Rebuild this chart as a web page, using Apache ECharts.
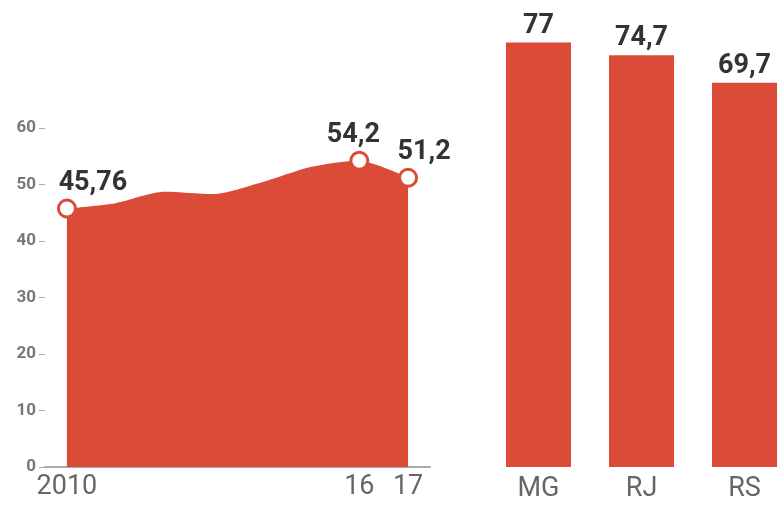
<!DOCTYPE html>
<html><head><meta charset="utf-8">
<script src="https://cdn.jsdelivr.net/npm/echarts@6/dist/echarts.min.js"></script>
<style>html,body{margin:0;padding:0;background:#fff}#c{width:778px;height:511px}</style>
</head><body><div id="c"></div>
<script>
const years = [2010, 2011, 2012, 2013, 2014, 2015, 2016, 2017];
const values = [45.76, 46.7, 48.7, 48.3, 50.4, 53.1, 54.2, 51.2];
const yearLabels = {2010: '2010', 2016: '16', 2017: '17'};
const markedYears = [2010, 2016, 2017];
const labelTexts = {2010: '45,76', 2016: '54,2', 2017: '51,2'};
const states = ['MG', 'RJ', 'RS'];
const stateValues = [77, 74.7, 69.7];
const stateLabels = ['77', '74,7', '69,7'];
const yTicks = [0, 10, 20, 30, 40, 50, 60];

const RED = '#dc4b38';
const labelOffsets = {2010: [26, 0], 2016: [-6, 0], 2017: [16, 0]};

const lineData = years.map((y, i) => {
  const d = {value: [y, values[i]]};
  if (markedYears.includes(y)) {
    d.symbol = 'circle';
    d.symbolSize = 17;
    d.label = {show: true, position: 'top', distance: 2, offset: labelOffsets[y],
      formatter: labelTexts[y], fontFamily: 'Roboto', fontWeight: 'bold', fontSize: 27, color: '#333'};
  } else {
    d.symbol = 'none';
  }
  return d;
});

const barData = states.map((s, i) => ({value: [i, stateValues[i]], label: {formatter: stateLabels[i]}}));

const chart = echarts.init(document.getElementById('c'));
chart.setOption({
  animation: false,
  grid: [
    {left: 45, top: 128, width: 385, bottom: 44},
    {left: 487, top: 26, right: 0, bottom: 44}
  ],
  xAxis: [
    {gridIndex: 0, type: 'value', min: 2009.55, max: 2017.45,
     axisLine: {show: true, lineStyle: {color: '#aaa', width: 2}},
     axisTick: {show: true, inside: true, length: 6, customValues: [2011, 2012, 2013, 2014, 2015, 2016],
       lineStyle: {color: 'rgba(255,255,255,0.45)', width: 2}},
     axisLabel: {customValues: markedYears, formatter: v => yearLabels[v] || '', margin: 7,
       fontFamily: 'Roboto', fontSize: 27, color: '#666'},
     splitLine: {show: false}},
    {gridIndex: 1, type: 'value', min: -0.5, max: 2.325,
     axisLine: {show: false}, axisTick: {show: false}, splitLine: {show: false},
     axisLabel: {customValues: [0, 1, 2], formatter: v => states[v] || '', margin: 9,
       fontFamily: 'Roboto', fontSize: 27, color: '#666'}}
  ],
  yAxis: [
    {gridIndex: 0, type: 'value', min: 0, max: 60, interval: 10,
     axisLine: {show: false},
     axisTick: {show: true, length: 6, lineStyle: {color: '#aaa', width: 1}},
     axisLabel: {margin: 9, fontFamily: 'Roboto', fontSize: 17, fontWeight: 'bold', color: '#777',
       customValues: yTicks},
     splitLine: {show: false}},
    {gridIndex: 1, type: 'value', min: 0, max: 80, show: false}
  ],
  series: [
    {type: 'line', xAxisIndex: 0, yAxisIndex: 0, data: lineData, smooth: 0.25,
     lineStyle: {width: 0, color: RED},
     itemStyle: {color: '#fff', borderColor: RED, borderWidth: 3},
     areaStyle: {color: RED, opacity: 1}, z: 2},
    {type: 'bar', xAxisIndex: 1, yAxisIndex: 1, barWidth: 65,
     data: barData,
     itemStyle: {color: RED},
     label: {show: true, position: 'top', distance: 3, fontFamily: 'Roboto', fontWeight: 'bold',
       fontSize: 27, color: '#333'}}
  ]
});
</script></body></html>
